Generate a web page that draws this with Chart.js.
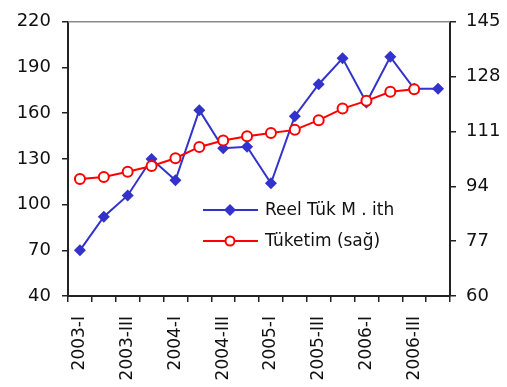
<!DOCTYPE html>
<html>
<head>
<meta charset="utf-8">
<script src="https://cdn.jsdelivr.net/npm/chart.js@4/dist/chart.umd.min.js"></script>
<style>
  html, body { margin: 0; padding: 0; background: #ffffff; }
  #wrap { width: 507px; height: 387px; }
</style>
</head>
<body>
<div id="wrap"><canvas id="c" width="507" height="387"></canvas></div>
<script>
// Quarterly periods
const quarters = [
  '2003-I', '2003-II', '2003-III', '2003-IV',
  '2004-I', '2004-II', '2004-III', '2004-IV',
  '2005-I', '2005-II', '2005-III', '2005-IV',
  '2006-I', '2006-II', '2006-III', '2006-IV'
];

// Real consumer goods imports index (left axis)
const reelTukIth = [70, 92, 106, 130, 116, 162, 137, 138, 114, 158, 179, 196, 167, 197, 176, 176];

// Consumption (right axis)
const tuketim = [96.3, 96.9, 98.5, 100.3, 102.7, 106.2, 108.2, 109.5, 110.5, 111.5, 114.5, 118.1, 120.5, 123.3, 124.1, null];

// Axis tick values
const leftTicks = [40, 70, 100, 130, 160, 190, 220];
const rightTicks = [60, 77, 94, 111, 128, 145];

const seriesNames = ['Reel Tük M . ith', 'Tüketim (sağ)'];

const FONT = 'DejaVu Sans';
const AXIS_COLOR = '#222222';

// Frame line along the top of the plot and an in-plot legend
const framePlugin = {
  id: 'frame',
  afterDraw(chart) {
    const ctx = chart.ctx;
    const a = chart.chartArea;
    ctx.save();
    ctx.strokeStyle = '#8a8a8a';
    ctx.lineWidth = 1.5;
    ctx.beginPath();
    ctx.moveTo(a.left, a.top);
    ctx.lineTo(a.right, a.top);
    ctx.stroke();

    // legend
    const rows = [
      { ds: chart.data.datasets[0], y: 210 },
      { ds: chart.data.datasets[1], y: 241 }
    ];
    const x0 = 203, x1 = 258, xm = 230, xt = 265;
    rows.forEach(r => {
      const ds = r.ds;
      ctx.strokeStyle = ds.borderColor;
      ctx.lineWidth = ds.borderWidth;
      ctx.beginPath();
      ctx.moveTo(x0, r.y);
      ctx.lineTo(x1, r.y);
      ctx.stroke();
      if (ds.pointStyle === 'rectRot') {
        const rr = ds.pointRadius;
        ctx.fillStyle = ds.pointBackgroundColor;
        ctx.beginPath();
        ctx.moveTo(xm, r.y - rr);
        ctx.lineTo(xm + rr, r.y);
        ctx.lineTo(xm, r.y + rr);
        ctx.lineTo(xm - rr, r.y);
        ctx.closePath();
        ctx.fill();
      } else {
        ctx.fillStyle = ds.pointBackgroundColor;
        ctx.strokeStyle = ds.pointBorderColor;
        ctx.lineWidth = ds.pointBorderWidth;
        ctx.beginPath();
        ctx.arc(xm, r.y, ds.pointRadius - 0.5, 0, Math.PI * 2);
        ctx.fill();
        ctx.stroke();
      }
      ctx.fillStyle = '#111111';
      ctx.font = '17px "' + FONT + '"';
      ctx.textBaseline = 'middle';
      ctx.textAlign = 'left';
      ctx.fillText(ds.label, xt, r.y + 1);
    });
    ctx.restore();
  }
};

new Chart(document.getElementById('c'), {
  type: 'line',
  data: {
    labels: quarters,
    datasets: [
      {
        label: seriesNames[0],
        data: reelTukIth,
        yAxisID: 'y',
        borderColor: '#3333cc',
        backgroundColor: '#3333cc',
        borderWidth: 2,
        pointStyle: 'rectRot',
        pointRadius: 6,
        pointBackgroundColor: '#3333cc',
        pointBorderColor: '#3333cc',
        pointBorderWidth: 0,
        tension: 0,
        order: 2
      },
      {
        label: seriesNames[1],
        data: tuketim,
        yAxisID: 'y1',
        borderColor: '#ff0000',
        backgroundColor: '#ffffff',
        borderWidth: 2,
        pointStyle: 'circle',
        pointRadius: 5,
        pointBackgroundColor: '#ffffff',
        pointBorderColor: '#ff0000',
        pointBorderWidth: 2,
        tension: 0,
        spanGaps: false,
        order: 1
      }
    ]
  },
  options: {
    responsive: false,
    animation: false,
    events: [],
    layout: { padding: { top: 13, left: 0, right: 0, bottom: 0 } },
    plugins: {
      legend: { display: false },
      tooltip: { enabled: false }
    },
    scales: {
      x: {
        offset: true,
        grid: {
          offset: true,
          display: true,
          drawOnChartArea: false,
          drawTicks: true,
          tickLength: 6,
          color: AXIS_COLOR,
          lineWidth: 1.5
        },
        border: { display: true, color: AXIS_COLOR, width: 2 },
        ticks: {
          autoSkip: false,
          maxRotation: 90,
          minRotation: 90,
          padding: 14,
          color: '#111111',
          font: { family: FONT, size: 17 },
          callback(value, index) { return index % 2 === 0 ? quarters[index] : ''; }
        },
        afterFit(scale) { scale.height = 91; }
      },
      y: {
        position: 'left',
        min: 40,
        max: 220,
        afterBuildTicks(scale) { scale.ticks = leftTicks.map(v => ({ value: v })); },
        grid: {
          drawOnChartArea: false,
          drawTicks: true,
          tickLength: 6,
          color: AXIS_COLOR,
          lineWidth: 1.5
        },
        border: { display: true, color: AXIS_COLOR, width: 2 },
        ticks: {
          padding: 11,
          color: '#111111',
          font: { family: FONT, size: 18 }
        },
        afterFit(scale) { scale.width = 68; }
      },
      y1: {
        position: 'right',
        min: 60,
        max: 145,
        afterBuildTicks(scale) { scale.ticks = rightTicks.map(v => ({ value: v })); },
        grid: {
          drawOnChartArea: false,
          drawTicks: true,
          tickLength: 6,
          color: AXIS_COLOR,
          lineWidth: 1.5
        },
        border: { display: true, color: AXIS_COLOR, width: 2 },
        ticks: {
          padding: 10,
          color: '#111111',
          font: { family: FONT, size: 18 }
        },
        afterFit(scale) { scale.width = 57; }
      }
    }
  },
  plugins: [framePlugin]
});
</script>
</body>
</html>
